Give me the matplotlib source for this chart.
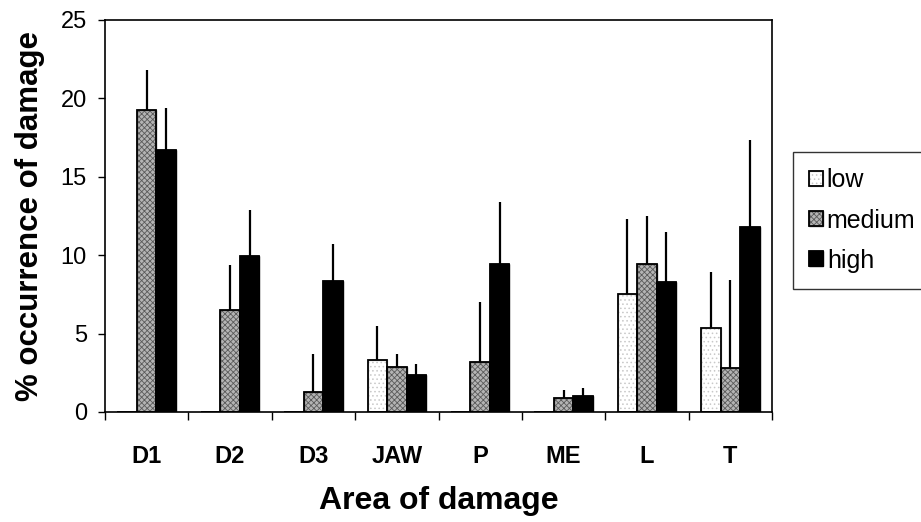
import matplotlib
matplotlib.use("Agg")
import matplotlib.pyplot as plt
import numpy as np

plt.rcParams['font.family'] = ['Liberation Sans', 'DejaVu Sans']
plt.rcParams['hatch.linewidth'] = 0.6

categories = ["D1", "D2", "D3", "JAW", "P", "ME", "L", "T"]
low = [0.0, 0.0, 0.0, 3.3, 0.0, 0.0, 7.5, 5.35]
low_err = [0.0, 0.0, 0.0, 2.2, 0.0, 0.0, 4.8, 3.55]
medium = [19.25, 6.5, 1.28, 2.9, 3.2, 0.9, 9.45, 2.8]
medium_err = [2.55, 2.9, 2.42, 0.8, 3.8, 0.5, 3.05, 5.6]
high = [16.7, 9.95, 8.35, 2.35, 9.45, 1.0, 8.3, 11.8]
high_err = [2.7, 2.95, 2.35, 0.7, 3.95, 0.55, 3.2, 5.55]

fig = plt.figure(figsize=(9.21, 5.22), dpi=100)
ax = fig.add_axes([105 / 921, 1 - 412 / 522, (772 - 105) / 921, (412 - 20) / 522])

x = np.arange(len(categories))
w = 0.234

series = [
    ("low", low, low_err, dict(facecolor="white", hatch="....", edgecolor="#c8c8c8")),
    ("medium", medium, medium_err, dict(facecolor="#b4b4b4", hatch="xxxxxx", edgecolor="#5a5a5a")),
    ("high", high, high_err, dict(facecolor="black", edgecolor="black")),
]

handles = []
for i, (name, vals, errs, style) in enumerate(series):
    pos = x + (i - 1) * w
    fill = ax.bar(pos, vals, width=w, zorder=2, **style)
    # outline drawn separately so hatch colour can differ from border colour
    outline = ax.bar(pos, vals, width=w, facecolor="none", edgecolor="black",
                     linewidth=1.3, zorder=3)
    ax.errorbar(pos, vals, yerr=[np.zeros(len(errs)), errs], fmt="none",
                ecolor="black", elinewidth=1.6, capsize=0, zorder=1)
    handles.append((fill, outline))

ax.set_xlim(-0.5, len(categories) - 0.5)
ax.set_ylim(0, 25)
ax.set_yticks([0, 5, 10, 15, 20, 25])
ax.set_xticks(x)
ax.set_xticklabels(categories, fontsize=17, fontweight="bold")
ax.set_xticks(np.arange(-0.5, len(categories)), minor=True)
ax.tick_params(axis="x", which="major", length=0, pad=24)
ax.tick_params(axis="x", which="minor", length=6, width=1, direction="out")
ax.tick_params(axis="y", length=5, width=1, direction="out", labelsize=17, pad=8)
for s in ax.spines.values():
    s.set_linewidth(1.2)

ax.set_ylabel("% occurrence of damage", fontsize=22.5, fontweight="bold", labelpad=11)
ax.set_xlabel("Area of damage", fontsize=23, fontweight="bold", labelpad=13)

leg = fig.legend(handles, ["low", "medium", "high"], loc="upper left",
                 bbox_to_anchor=(793 / 921, 1 - 152 / 522), fontsize=18,
                 frameon=True, fancybox=False, edgecolor="black",
                 handlelength=0.55, handleheight=0.55, handletextpad=0.15,
                 labelspacing=0.65, borderpad=0.65, borderaxespad=0)
leg.get_frame().set_linewidth(1.0)

fig.savefig("out.png", dpi=100)
